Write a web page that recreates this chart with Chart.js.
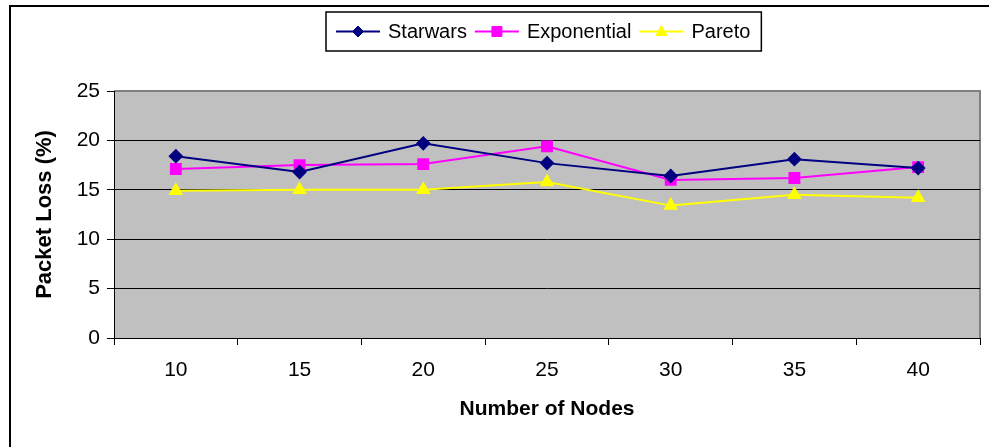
<!DOCTYPE html>
<html>
<head>
<meta charset="utf-8">
<script src="https://cdn.jsdelivr.net/npm/chart.js@4/dist/chart.umd.min.js"></script>
<style>
html,body{margin:0;padding:0;background:#fff;}
canvas{display:block;}
</style>
</head>
<body>
<canvas id="c" width="989" height="447"></canvas>
<script>
const categories = ['10', '15', '20', '25', '30', '35', '40'];
const starwars = [18.4, 16.8, 19.7, 17.7, 16.4, 18.1, 17.2];
const exponential = [17.1, 17.5, 17.6, 19.4, 16.0, 16.2, 17.3];
const pareto = [14.9, 15.0, 15.0, 15.8, 13.4, 14.5, 14.2];
const seriesNames = ['Starwars', 'Exponential', 'Pareto'];
const xTitle = 'Number of Nodes';
const yTitle = 'Packet Loss (%)';

const FONT = '"Liberation Sans", Arial, sans-serif';

function drawMarker(ctx, style, x, y, color) {
  ctx.save();
  ctx.fillStyle = color;
  ctx.strokeStyle = color;
  ctx.lineWidth = 1;
  ctx.beginPath();
  if (style === 'rectRot') {
    ctx.moveTo(x, y - 5.5); ctx.lineTo(x + 5.5, y); ctx.lineTo(x, y + 5.5); ctx.lineTo(x - 5.5, y);
  } else if (style === 'rect') {
    ctx.rect(x - 5, y - 5, 10, 10);
  } else {
    ctx.moveTo(x, y - 6); ctx.lineTo(x + 5.5, y + 4); ctx.lineTo(x - 5.5, y + 4);
  }
  ctx.closePath();
  ctx.fill();
  ctx.stroke();
  ctx.restore();
}

const decor = {
  id: 'decor',
  beforeDraw(chart) {
    const ctx = chart.ctx;
    const a = chart.chartArea;
    ctx.save();
    ctx.strokeStyle = '#000';
    ctx.lineWidth = 2;
    ctx.strokeRect(10, 6, 1000, 460);
    ctx.fillStyle = '#C0C0C0';
    ctx.fillRect(a.left, a.top, a.right - a.left, a.bottom - a.top);
    ctx.strokeStyle = '#808080';
    ctx.lineWidth = 2;
    ctx.beginPath();
    ctx.moveTo(a.left, a.top);
    ctx.lineTo(a.right, a.top);
    ctx.lineTo(a.right, a.bottom);
    ctx.stroke();
    ctx.restore();
  },
  afterDraw(chart) {
    const ctx = chart.ctx;
    ctx.save();
    ctx.font = '20px ' + FONT;
    const left = 326, top = 12, h = 39;
    const cy = top + h / 2;
    let x = left + 10;
    const items = chart.data.datasets.map(ds => ({ds, w: ctx.measureText(ds.label).width}));
    items.forEach(({ds, w}) => {
      ctx.strokeStyle = ds.borderColor;
      ctx.lineWidth = 2;
      ctx.beginPath();
      ctx.moveTo(x, cy); ctx.lineTo(x + 44, cy);
      ctx.stroke();
      drawMarker(ctx, ds.pointStyle, x + 22, cy, ds.pointBackgroundColor);
      ctx.fillStyle = '#000';
      ctx.textBaseline = 'middle';
      ctx.textAlign = 'left';
      ctx.fillText(ds.label, x + 52, cy + 1);
      x += 52 + w + 8;
    });
    const right = x - 8 + 11;
    ctx.strokeStyle = '#000';
    ctx.lineWidth = 1.5;
    ctx.strokeRect(left, top, right - left, h);
    ctx.restore();
  }
};

new Chart(document.getElementById('c'), {
  type: 'line',
  data: {
    labels: categories,
    datasets: [
      {label: seriesNames[0], data: starwars, borderColor: '#000080', backgroundColor: '#000080',
       pointBackgroundColor: '#000080', pointBorderColor: '#000080', pointStyle: 'rectRot', pointRadius: 6, borderWidth: 2},
      {label: seriesNames[1], data: exponential, borderColor: '#FF00FF', backgroundColor: '#FF00FF',
       pointBackgroundColor: '#FF00FF', pointBorderColor: '#FF00FF', pointStyle: 'rect', pointRadius: 7, borderWidth: 2},
      {label: seriesNames[2], data: pareto, borderColor: '#FFFF00', backgroundColor: '#FFFF00',
       pointBackgroundColor: '#FFFF00', pointBorderColor: '#FFFF00', pointStyle: 'triangle', pointRadius: 6.5, borderWidth: 2}
    ]
  },
  options: {
    responsive: false,
    animation: false,
    devicePixelRatio: 1,
    layout: {padding: {left: 0, right: 6, top: 91, bottom: 0}},
    plugins: {legend: {display: false}, tooltip: {enabled: false}},
    elements: {line: {tension: 0}},
    scales: {
      x: {
        offset: true,
        grid: {offset: true, drawOnChartArea: false, drawTicks: true, tickLength: 7, color: '#000', tickColor: '#000'},
        border: {color: '#000', width: 1},
        ticks: {color: '#000', padding: 13, font: {family: FONT, size: 21}, maxRotation: 0},
        title: {display: true, text: xTitle, color: '#000', font: {family: FONT, size: 21, weight: 'bold'}, padding: {top: 0, bottom: 25}},
        afterFit(s) { s.height = 109; }
      },
      y: {
        min: 0, max: 25,
        grid: {
          color: ctx => (ctx.tick && ctx.tick.value === 25) ? 'rgba(0,0,0,0)' : '#000',
          tickColor: '#000', tickLength: 7, lineWidth: 1
        },
        border: {color: '#000', width: 1},
        ticks: {stepSize: 5, color: '#000', padding: 7, font: {family: FONT, size: 21}},
        title: {display: true, text: yTitle, color: '#000', font: {family: FONT, size: 22, weight: 'bold'}, padding: {top: 32, bottom: 0}},
        afterFit(s) { s.width = 114; }
      }
    }
  },
  plugins: [decor]
});
</script>
</body>
</html>
